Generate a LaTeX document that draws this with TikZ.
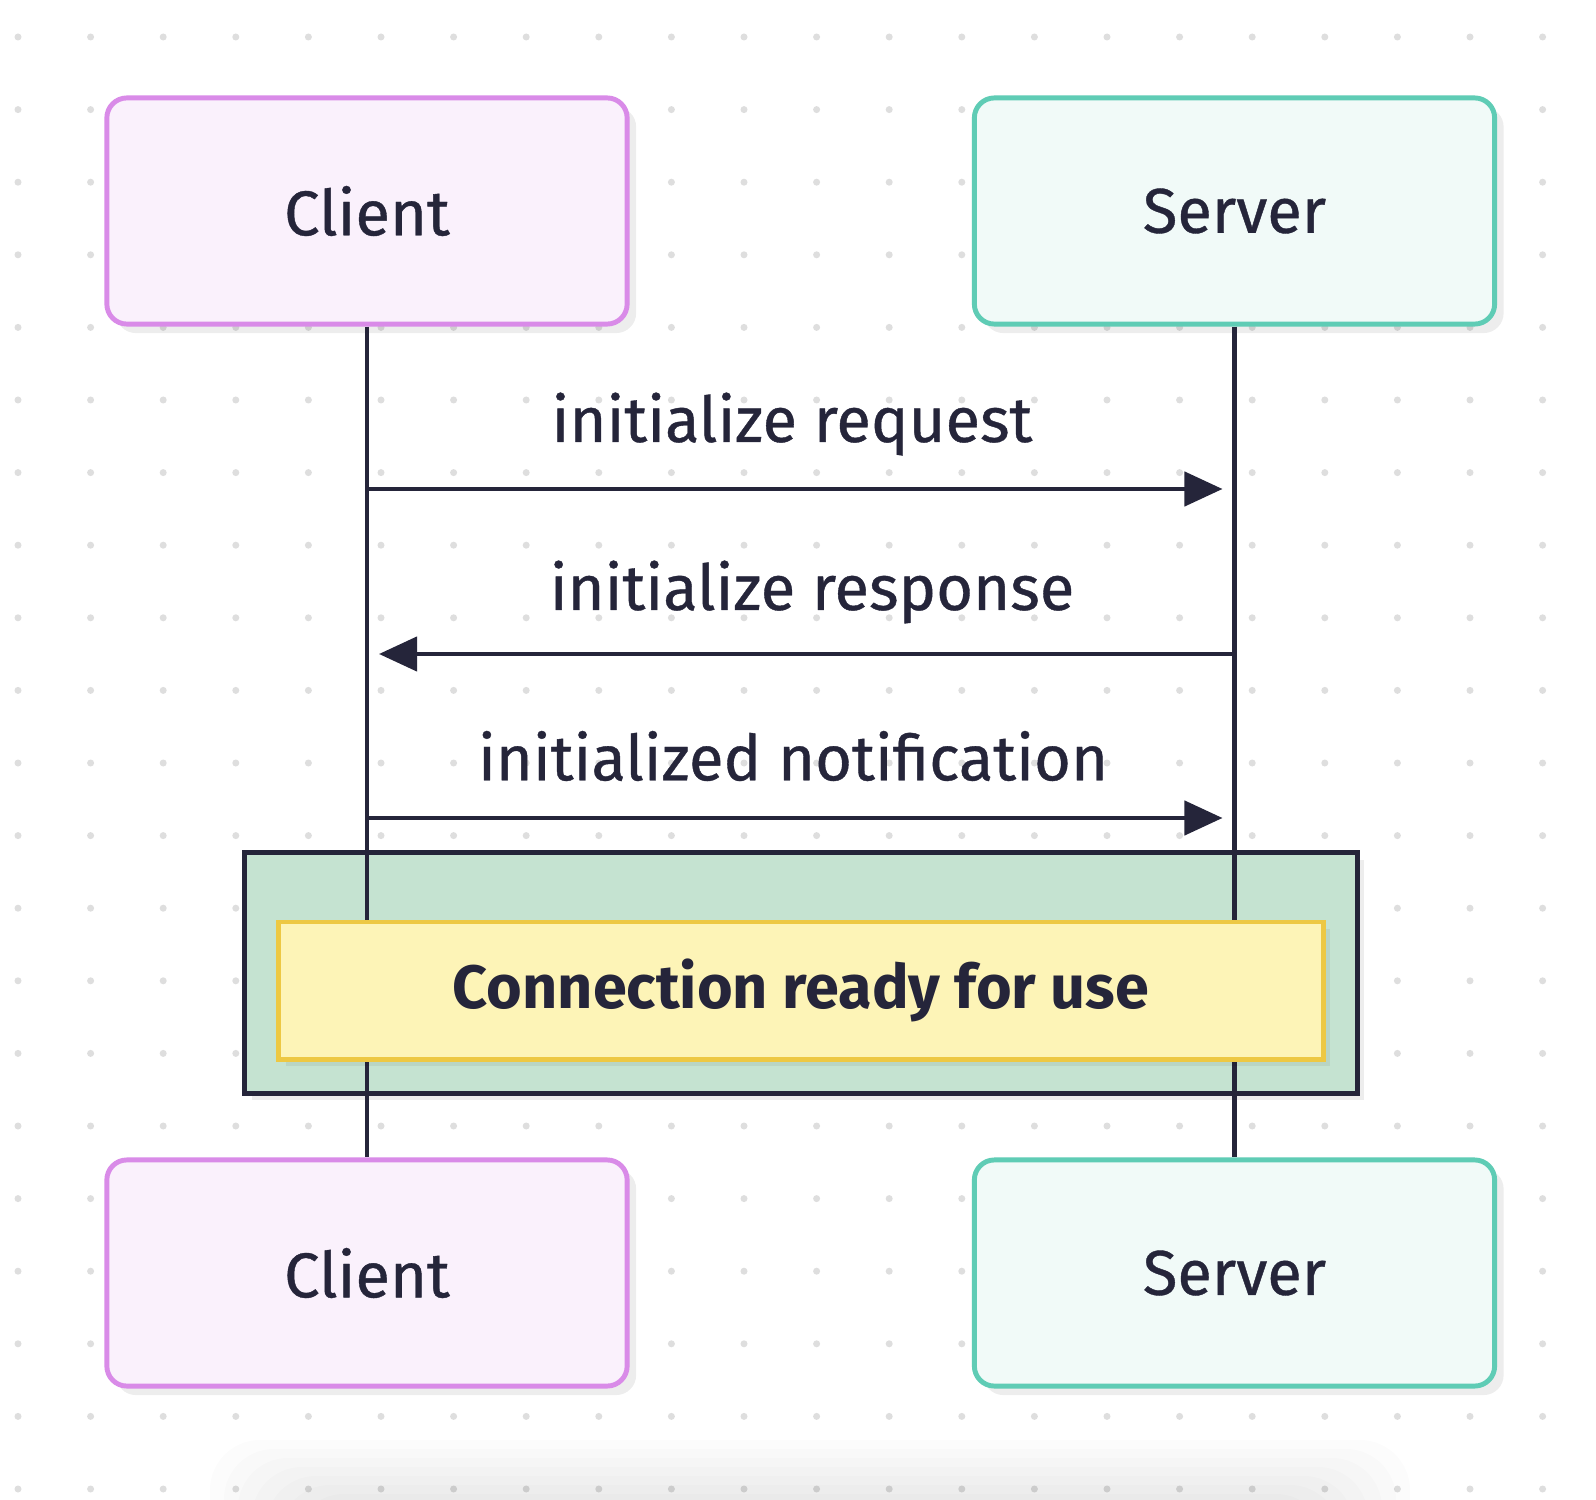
\documentclass[tikz,border=0pt]{standalone}
\usepackage{fontspec}
\setmainfont{Fira Sans}[UprightFeatures={FakeBold=0.6}]
\usetikzlibrary{arrows.meta,shadows}
\definecolor{inkc}{HTML}{25253A}
\definecolor{clientline}{HTML}{D98BE8}
\definecolor{clientfill}{HTML}{FAF1FC}
\definecolor{serverline}{HTML}{5FCCB5}
\definecolor{serverfill}{HTML}{F1FAF8}
\definecolor{notefill}{HTML}{C5E3D1}
\definecolor{readyfill}{HTML}{FDF4B7}
\definecolor{readyline}{HTML}{EDC843}
\definecolor{dotc}{HTML}{DEDEDE}
\tikzset{
  actor/.style={draw, line width=1.4pt, rounded corners=0.2cm,
    minimum width=5.2cm, minimum height=2.26cm, text=inkc,
    font=\fontsize{18}{22}\selectfont,
    drop shadow={shadow xshift=0.09cm, shadow yshift=-0.09cm, fill=black, opacity=0.07}},
  client/.style={actor, draw=clientline, fill=clientfill},
  server/.style={actor, draw=serverline, fill=serverfill},
  lifeline/.style={draw=inkc, line width=1.4pt},
  msg/.style={draw=inkc, line width=1.25pt, -{Triangle[length=0.38cm,width=0.34cm]}},
  msglabel/.style={text=inkc, font=\fontsize{18}{22}\selectfont},
}
\begin{document}
\begin{tikzpicture}[x=0.01cm, y=-0.01cm]
\useasboundingbox (0,0) rectangle (1596,1500);
\fill[white] (0,0) rectangle (1596,1500);
% dot grid
\foreach \i in {0,...,21}
  \foreach \j in {0,...,20}
    \fill[dotc] (18+72.6*\i, 37+72.6*\j) circle (3.5);
% faint blur at the bottom
\foreach \k in {0,...,6}
  \fill[black, opacity=0.012, rounded corners=0.5cm] (210+14*\k,1440+9*\k) rectangle (1410-14*\k,1560);
% actors
\node[client] (clientTop) at (367,211) {Client};
\node[server] (serverTop) at (1234.5,211) {Server};
\node[client] (clientBot) at (367,1273) {Client};
\node[server] (serverBot) at (1234.5,1273) {Server};
% note behind the lifelines
\node[draw=inkc, line width=1.4pt, fill=notefill, minimum width=11.12cm, minimum height=2.4cm,
  drop shadow={shadow xshift=0.07cm, shadow yshift=-0.07cm, fill=black, opacity=0.07}] (readyNote) at (801,973) {};
% lifelines
\draw[lifeline] (clientTop.south) -- (clientBot.north);
\draw[lifeline] (serverTop.south) -- (serverBot.north);
% messages
\coordinate (reqC) at (clientTop.south |- 0,489);
\coordinate (reqS) at (serverTop.south |- 0,489);
\coordinate (resC) at (clientTop.south |- 0,654);
\coordinate (resS) at (serverTop.south |- 0,654);
\coordinate (notC) at (clientTop.south |- 0,818);
\coordinate (notS) at (serverTop.south |- 0,818);
\draw[msg, shorten >=0.12cm] (reqC) -- (reqS);
\draw[msg, shorten >=0.12cm] (resS) -- (resC);
\draw[msg, shorten >=0.12cm] (notC) -- (notS);
\node[msglabel] (reqLabel) at (792,424) {initialize request};
\node[msglabel] (resLabel) at (812,592) {initialize response};
\node[msglabel] (notLabel) at (793,756) {initialized notification};
% ready box
\node[draw=readyline, line width=1.4pt, fill=readyfill, minimum width=10.44cm, minimum height=1.37cm,
  text=inkc, font=\fontsize{17.4}{21}\selectfont\bfseries,
  drop shadow={shadow xshift=0.07cm, shadow yshift=-0.07cm, fill=black, opacity=0.06}] (readyBox) at (801,990.5) {Connection ready for use};
\end{tikzpicture}
\end{document}
